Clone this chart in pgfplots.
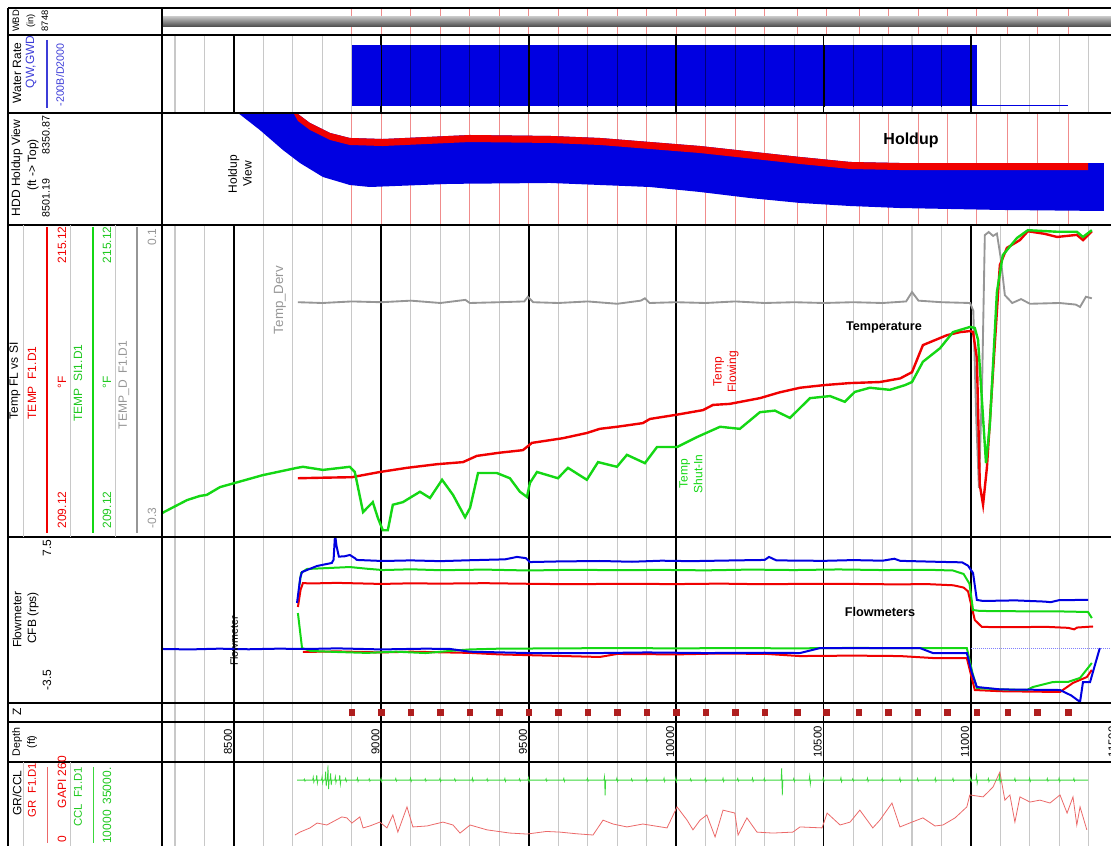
\documentclass[border=0pt]{standalone}
\usepackage{fontspec}
\setmainfont{Liberation Sans}
\usepackage{pgfplots}
\pgfplotsset{compat=1.18}

\definecolor{tgreen}{RGB}{20,215,20}
\definecolor{tred}{RGB}{240,0,0}
\definecolor{tblue}{RGB}{0,0,225}
\definecolor{navy}{RGB}{0,0,120}
\definecolor{dgray}{RGB}{150,150,150}
\definecolor{gridgray}{RGB}{200,200,200}
\definecolor{zred}{RGB}{175,30,30}
\definecolor{grred}{RGB}{235,105,105}
\definecolor{cclgreen}{RGB}{60,215,60}
\definecolor{hdrblue}{RGB}{60,60,215}
\definecolor{hdrgreen}{RGB}{30,200,30}
\definecolor{statred}{RGB}{240,140,140}

\pgfplotsset{
  trk/.style={scale only axis, width=711.75pt, xmin=8256, xmax=11475,
    anchor=south west, axis line style={draw=none}, ytick=\empty,
    scaled x ticks=false, scaled y ticks=false,
    xticklabels={}, major tick length=0pt, minor tick length=0pt},
  grd/.style={xtick={8500,9000,...,11000}, minor xtick={8300,8400,...,11400},
    xmajorgrids, xminorgrids,
    major grid style={black, line width=1.4pt},
    minor grid style={gridgray, line width=0.8pt}},
  bare/.style={xtick=\empty},
  stn/.style={extra x ticks={8900,9000,9100,9200,9300,9400,9500,9600,9700,9800,9900,10000,10100,10200,10300,10410,10510,10620,10720,10820,10920,11020,11125,11225,11330},
    extra x tick labels={},
    extra x tick style={grid=major, major grid style={statred, line width=0.6pt}}},
}

\begin{document}
\begin{tikzpicture}
\useasboundingbox (0,0) rectangle (833.25pt,634.5pt);

% ---------------- WBD track ----------------
\begin{axis}[trk, stn, at={(121.5pt,608.25pt)}, height=20.25pt, xtick=\empty,
  ymin=-11.37, ymax=12.25]
\addplot[draw=none, top color=black!25, middle color=black!50, bottom color=black!72]
  coordinates {(8256,-4.374) (11475,-4.374) (11475,4.374) (8256,4.374)} -- cycle;
\end{axis}

% ---------------- Water rate ----------------
\begin{axis}[trk, grd, at={(121.5pt,549.75pt)}, height=58.5pt, ymin=-200, ymax=2000]
\addplot[draw=none, fill=tblue]
  coordinates {(8900,0) (8900,1720) (11020,1720) (11020,0)} -- cycle;
\addplot[tblue, line width=0.6pt] coordinates {(11020,0) (11330,0)};
\end{axis}
% depth grid seen through the rate fill
\begin{axis}[scale only axis, anchor=south west, at={(264pt,554.25pt)},
  width=468.75pt, height=46.5pt, xmin=8900, xmax=11020, ymin=0, ymax=1,
  axis line style={draw=none}, ytick=\empty, scaled x ticks=false,
  xticklabels={}, major tick length=0pt, minor tick length=0pt,
  xtick={9000,9500,...,11000}, minor xtick={9100,9200,...,10900},
  xmajorgrids, xminorgrids,
  major grid style={black, line width=1.4pt},
  minor grid style={navy, line width=0.8pt}]
\end{axis}

% ---------------- Holdup view ----------------
\begin{axis}[trk, stn, at={(121.5pt,465.75pt)}, height=84pt,
  ymin=8350.87, ymax=8501.19, y dir=reverse,
  xtick={8600,8700,8800}, xmajorgrids, major grid style={gridgray, line width=0.8pt}]
\addplot[draw=none, fill=tblue] coordinates {
  (8505,8340) (8717,8340) (8717,8352.2) (8758,8364.3) (8826,8377.7) (8893,8384.4)
  (9005,8385.8) (9301,8380.4) (9572,8381.7) (9741,8384.4) (10081,8395.2)
  (10420,8409.9) (10590,8416.6) (10759,8418) (11451,8418)
  (11451,8482.4) (11098,8481) (10759,8478.4) (10590,8475.7) (10420,8471.6)
  (10250,8465) (10081,8456.9) (9911,8450.2) (9572,8444.8) (9233,8446)
  (8961,8450.2) (8893,8447.5) (8802,8436.8) (8724,8418) (8666,8400.5)
  (8588,8373.7) (8514,8350.87) (8505,8340)} -- cycle;
\addplot[draw=none, fill=tred] coordinates {
  (8700,8340) (8717,8352.2) (8758,8364.3) (8826,8377.7) (8893,8384.4)
  (9005,8385.8) (9301,8380.4) (9572,8381.7) (9741,8384.4) (10081,8395.2)
  (10420,8409.9) (10590,8416.6) (10759,8418) (11397,8418)
  (11397,8427.4) (10759,8427.4) (10590,8426) (10420,8419.3) (10081,8404.6)
  (9741,8393.8) (9572,8391.1) (9301,8389.8) (9005,8395.2) (8893,8393.8)
  (8826,8387.1) (8758,8373.7) (8717,8361.6) (8700,8349.4)} -- cycle;
\end{axis}

% ---------------- Temperature (derivative, with grid) ----------------
\begin{axis}[trk, grd, at={(121.5pt,231.75pt)}, height=234pt, ymin=-0.3, ymax=0.1]
\addplot[dgray, line width=1.4pt] coordinates {
  (8717,0.001) (8800,0.000) (8900,0.002) (9000,0.001) (9100,0.003) (9200,0.000)
  (9285,0.004) (9300,0.000) (9400,0.001) (9485,0.002) (9497,0.008) (9515,0.001)
  (9600,0.000) (9700,0.002) (9800,-0.001) (9880,0.003) (9894,0.006) (9910,0.000)
  (10000,0.001) (10100,0.000) (10200,0.002) (10300,0.000) (10400,0.001)
  (10500,0.000) (10600,0.001) (10700,0.000) (10780,0.002) (10800,0.014)
  (10822,0.003) (10900,0.001) (10997,0.000) (11008,-0.010) (11018,-0.150)
  (11027,-0.237) (11038,-0.100) (11047,0.087) (11060,0.091) (11075,0.086)
  (11088,0.089) (11100,0.060) (11115,0.010) (11140,0.000) (11170,0.005)
  (11200,-0.001) (11300,0.000) (11355,-0.002) (11370,-0.005) (11390,0.008)
  (11410,0.006)};
\end{axis}

% ---------------- Temperature (flowing / shut-in) ----------------
\begin{axis}[trk, bare, at={(121.5pt,231.75pt)}, height=234pt, ymin=209.12, ymax=215.12]
\addplot[tred, line width=1.8pt] coordinates {
  (8717,210.25) (8800,210.26) (8900,210.27) (8995,210.37) (9087,210.45)
  (9189,210.52) (9277,210.56) (9324,210.68) (9400,210.74) (9480,210.79)
  (9511,210.93) (9616,211.02) (9697,211.12) (9741,211.20) (9800,211.24)
  (9887,211.31) (9911,211.39) (10000,211.47) (10091,211.56) (10125,211.66)
  (10182,211.68) (10284,211.79) (10350,211.90) (10420,211.99) (10500,212.04)
  (10589,212.08) (10691,212.10) (10760,212.17) (10800,212.29) (10837,212.81)
  (10918,213.00) (10963,213.06) (10997,213.08) (11007,213.06) (11020,212.56)
  (11030,210.12) (11041,209.74) (11054,210.45) (11098,214.35) (11122,214.68)
  (11166,214.83) (11193,215.00) (11250,214.95) (11292,214.89) (11359,214.93)
  (11380,214.83) (11410,215.00)};
\addplot[tgreen, line width=1.8pt] coordinates {
  (8256,209.58) (8341,209.83) (8385,209.91) (8408,209.93) (8453,210.08)
  (8510,210.17) (8598,210.31) (8714,210.45) (8734,210.47) (8802,210.41)
  (8893,210.47) (8910,210.37) (8938,209.60) (8971,209.79) (8988,209.49)
  (9005,209.25) (9022,209.25) (9039,209.74) (9073,209.79) (9131,209.99)
  (9165,209.87) (9206,210.22) (9243,209.93) (9284,209.50) (9301,209.68)
  (9328,210.35) (9392,210.35) (9436,210.25) (9470,209.99) (9494,209.89)
  (9504,210.16) (9528,210.37) (9599,210.25) (9633,210.45) (9697,210.22)
  (9735,210.56) (9799,210.47) (9833,210.70) (9894,210.54) (9935,210.85)
  (10003,210.85) (10070,211.04) (10149,211.24) (10182,211.22) (10216,211.20)
  (10284,211.52) (10335,211.55) (10386,211.41) (10454,211.79) (10522,211.83)
  (10572,211.72) (10606,211.91) (10657,211.99) (10725,211.95) (10776,212.04)
  (10800,212.10) (10837,212.49) (10895,212.75) (10939,213.06) (10997,213.16)
  (11013,213.14) (11024,212.91) (11051,210.54) (11064,211.27) (11088,213.83)
  (11108,214.54) (11156,214.87) (11193,215.02) (11292,214.99) (11359,214.99)
  (11380,214.89) (11410,215.02)};
\end{axis}

% ---------------- Flowmeters ----------------
\begin{axis}[trk, grd, at={(121.5pt,107.25pt)}, height=124.5pt, ymin=-3.5, ymax=7.5]
\addplot[blue!50, densely dotted, line width=0.5pt] coordinates {(11000,0.1) (11475,0.1)};
\addplot[tred, line width=1.5pt] coordinates {
  (8717,2.86) (8726,4.00) (8734,4.45) (8758,4.42) (8850,4.46) (9000,4.39)
  (9100,4.43) (9200,4.41) (9350,4.44) (9500,4.40) (9650,4.37) (9800,4.40)
  (10000,4.38) (10150,4.41) (10300,4.37) (10450,4.40) (10600,4.39)
  (10750,4.36) (10850,4.38) (10940,4.30) (10975,4.15) (10990,3.90)
  (11013,2.00) (11037,1.54) (11150,1.52) (11250,1.55) (11330,1.48)
  (11350,1.38) (11360,1.50) (11414,1.57)};
\addplot[tgreen, line width=1.5pt] coordinates {
  (8722,4.30) (8728,5.12) (8748,5.38) (8893,5.51) (8950,5.40) (9005,5.31)
  (9100,5.36) (9200,5.30) (9350,5.34) (9500,5.28) (9650,5.33) (9800,5.30)
  (9950,5.32) (10100,5.29) (10250,5.34) (10400,5.31) (10550,5.35)
  (10700,5.31) (10850,5.33) (10939,5.28) (10975,5.05) (10995,4.40)
  (11007,2.66) (11030,2.60) (11150,2.58) (11300,2.57) (11397,2.53) (11410,2.13)};
\addplot[tblue, line width=1.5pt] coordinates {
  (8714,3.13) (8725,4.80) (8731,5.18) (8782,5.58) (8832,5.78) (8838,6.00)
  (8843,7.70) (8848,6.90) (8856,6.20) (8875,6.22) (8893,6.31) (8910,6.10)
  (8917,5.98) (9005,5.91) (9100,5.95) (9200,5.90) (9300,5.96) (9420,6.02)
  (9460,6.18) (9490,6.10) (9504,5.84) (9600,5.88) (9741,5.91) (9850,5.86)
  (9950,5.93) (10050,5.90) (10200,5.95) (10300,5.98) (10315,6.18)
  (10340,5.95) (10500,5.92) (10600,5.97) (10700,5.93) (10740,6.06)
  (10760,5.92) (10900,5.85) (10970,5.82) (10990,5.60) (11007,5.11)
  (11020,3.33) (11041,3.26) (11150,3.30) (11250,3.22) (11270,3.18)
  (11300,3.32) (11397,3.33)};
\addplot[tred, line width=1.5pt] coordinates {
  (8734,-0.12) (8850,-0.08) (9000,-0.15) (9100,-0.10) (9200,-0.14)
  (9300,-0.18) (9400,-0.28) (9480,-0.32) (9600,-0.38) (9741,-0.45)
  (9800,-0.25) (10000,-0.28) (10150,-0.22) (10308,-0.25) (10420,-0.39)
  (10600,-0.36) (10759,-0.39) (10871,-0.52) (10986,-0.52) (11013,-2.64)
  (11100,-2.72) (11302,-2.77) (11346,-2.17) (11393,-1.78) (11410,-1.31)};
\addplot[tgreen, line width=1.5pt] coordinates {
  (8717,2.46) (8731,0.14) (8760,-0.05) (8850,-0.12) (8950,-0.18) (9050,-0.10)
  (9150,-0.19) (9233,-0.05) (9300,0.05) (9400,0.10) (9600,0.12) (9800,0.14)
  (10000,0.12) (10200,0.14) (10400,0.12) (10600,0.15) (10800,0.13)
  (10986,0.14) (11005,-1.50) (11020,-2.51) (11100,-2.60) (11190,-2.64)
  (11210,-2.44) (11278,-2.11) (11330,-2.10) (11370,-1.84) (11410,-0.85)};
\addplot[tblue, line width=1.5pt] coordinates {
  (8256,0.08) (8350,0.05) (8450,0.10) (8550,0.06) (8650,0.10) (8750,0.08)
  (8850,0.12) (9000,0.05) (9150,0.10) (9233,0.08) (9300,-0.10) (9500,-0.19)
  (9741,-0.19) (9900,-0.15) (10100,-0.19) (10300,-0.17) (10420,-0.19)
  (10488,0.14) (10827,0.14) (10871,-0.19) (10986,-0.19) (11003,-1.50)
  (11020,-2.44) (11100,-2.60) (11302,-2.64) (11340,-3.00) (11370,-3.43)
  (11380,-2.11) (11404,-2.11) (11437,0.14)};
\end{axis}

% ---------------- Station markers ----------------
\begin{axis}[trk, grd, at={(121.5pt,93pt)}, height=14.25pt, ymin=0, ymax=1]
\addplot[only marks, mark=square*, mark size=2.1pt, color=zred] coordinates {
  (8900,0.5) (9000,0.5) (9100,0.5) (9200,0.5) (9300,0.5) (9400,0.5) (9500,0.5)
  (9600,0.5) (9700,0.5) (9800,0.5) (9900,0.5) (10000,0.5) (10100,0.5)
  (10200,0.5) (10300,0.5) (10410,0.5) (10510,0.5) (10620,0.5) (10720,0.5)
  (10820,0.5) (10920,0.5) (11020,0.5) (11125,0.5) (11225,0.5) (11330,0.5)};
\end{axis}

% ---------------- Depth scale ----------------
\begin{axis}[trk, grd, at={(121.5pt,63pt)}, height=30pt, ymin=0, ymax=1, clip=false]
\foreach \d in {8500,9000,9500,10000,10500,11000,11500}{
  \edef\temp{\noexpand\node[rotate=90, anchor=south, inner sep=1.2pt,
    font=\noexpand\fontsize{8.5}{9}\noexpand\selectfont] at (axis cs:\d,0.5) {\d};}
  \temp
}
\end{axis}

% ---------------- GR / CCL ----------------
\begin{axis}[trk, grd, at={(121.5pt,0pt)}, height=63pt, ymin=0, ymax=260]
\addplot[grred, line width=0.6pt] coordinates {
  (8707,34) (8724,43) (8758,56) (8782,71) (8815,65) (8866,90) (8883,87)
  (8900,71) (8927,90) (8938,56) (8961,62) (8995,74) (9019,56) (9039,96)
  (9056,43) (9087,121) (9107,59) (9155,62) (9209,74) (9243,65) (9267,40)
  (9301,65) (9358,50) (9436,40) (9494,37) (9560,45) (9606,43) (9660,38)
  (9718,34) (9752,80) (9786,68) (9833,59) (9887,68) (9928,62) (9969,56)
  (10003,121) (10037,80) (10057,50) (10081,80) (10104,96) (10132,28)
  (10159,111) (10199,102) (10210,34) (10240,87) (10274,43) (10328,40)
  (10396,43) (10420,59) (10495,56) (10512,102) (10556,65) (10590,74)
  (10623,111) (10667,56) (10691,80) (10732,133) (10759,59) (10800,74)
  (10837,87) (10878,62) (10905,65) (10946,87) (10986,121) (10996,158)
  (11041,152) (11058,167) (11075,183) (11098,229) (11115,142) (11132,158)
  (11149,74) (11166,152) (11200,136) (11234,142) (11268,133) (11302,158)
  (11326,102) (11346,152) (11359,65) (11370,121) (11393,50)};
\end{axis}
\begin{axis}[trk, bare, at={(121.5pt,0pt)}, height=63pt, ymin=10000, ymax=35000]
\addplot[cclgreen, line width=0.6pt] coordinates {
  (8714,29600)
  (8737,29600)(8739,29900)(8741,29300)(8743,29600)
  (8767,29600)(8769,30500)(8771,29000)(8773,29600)
  (8779,29600)(8781,31100)(8783,28700)(8785,29600)
  (8797,29600)(8799,30600)(8801,28800)(8803,29600)
  (8809,29600)(8811,32100)(8813,27800)(8815,29600)
  (8817,29600)(8819,34000)(8821,26900)(8823,29600)
  (8826,29600)(8828,31600)(8830,28100)(8832,29600)
  (8842,29600)(8844,30600)(8846,28900)(8848,29600)
  (8857,29600)(8859,31100)(8861,28400)(8863,29600)
  (8877,29600)(8879,30100)(8881,29200)(8883,29600)
  (8917,29600)(8919,30200)(8921,29200)(8923,29600)
  (8957,29600)(8959,30000)(8961,29300)(8963,29600)
  (8997,29600)(8999,30100)(9001,29200)(9003,29600)
  (9047,29600)(9049,30100)(9051,29300)(9053,29600)
  (9097,29600)(9099,30200)(9101,29200)(9103,29600)
  (9147,29600)(9149,30000)(9151,29300)(9153,29600)
  (9197,29600)(9199,30100)(9201,29200)(9203,29600)
  (9247,29600)(9249,30000)(9251,29300)(9253,29600)
  (9307,29600)(9309,30200)(9311,29200)(9313,29600)
  (9357,29600)(9359,30000)(9361,29300)(9363,29600)
  (9417,29600)(9419,30100)(9421,29200)(9423,29600)
  (9467,29600)(9469,30000)(9471,29300)(9473,29600)
  (9497,29600)(9499,30300)(9501,29100)(9503,29600)
  (9557,29600)(9559,30000)(9561,29300)(9563,29600)
  (9617,29600)(9619,30100)(9621,29200)(9623,29600)
  (9697,29600)(9699,30100)(9701,29300)(9703,29600)
  (9755,29600)(9757,30600)(9759,25100)(9761,29600)
  (9797,29600)(9799,30200)(9801,29200)(9803,29600)
  (9847,29600)(9849,30000)(9851,29300)(9853,29600)
  (9897,29600)(9899,30100)(9901,29200)(9903,29600)
  (9957,29600)(9959,30200)(9961,29200)(9963,29600)
  (9997,29600)(9999,30300)(10001,29100)(10003,29600)
  (10047,29600)(10049,30000)(10051,29300)(10053,29600)
  (10097,29600)(10099,30100)(10101,29200)(10103,29600)
  (10157,29600)(10159,30200)(10161,29200)(10163,29600)
  (10207,29600)(10209,30100)(10211,29300)(10213,29600)
  (10257,29600)(10259,30200)(10261,29200)(10263,29600)
  (10297,29600)(10299,30100)(10301,29300)(10303,29600)
  (10356,29600)(10358,33200)(10360,25100)(10362,29600)
  (10397,29600)(10399,30100)(10401,29200)(10403,29600)
  (10451,29600)(10453,30800)(10455,28400)(10457,29600)
  (10497,29600)(10499,30200)(10501,29200)(10503,29600)
  (10557,29600)(10559,30300)(10561,29100)(10563,29600)
  (10597,29600)(10599,30000)(10601,29300)(10603,29600)
  (10647,29600)(10649,30200)(10651,29200)(10653,29600)
  (10697,29600)(10699,30100)(10701,29300)(10703,29600)
  (10757,29600)(10759,30200)(10761,29200)(10763,29600)
  (10817,29600)(10819,30100)(10821,29300)(10823,29600)
  (10877,29600)(10879,30200)(10881,29200)(10883,29600)
  (10937,29600)(10939,30100)(10941,29300)(10943,29600)
  (10997,29600)(10999,30200)(11001,29200)(11003,29600)
  (11017,29600)(11019,30800)(11021,28700)(11023,29600)
  (11057,29600)(11059,30100)(11061,29200)(11063,29600)
  (11095,29600)(11097,31400)(11099,29000)(11101,29600)
  (11147,29600)(11149,30100)(11151,29300)(11153,29600)
  (11197,29600)(11199,30200)(11201,29200)(11203,29600)
  (11257,29600)(11259,30100)(11261,29300)(11263,29600)
  (11297,29600)(11299,30200)(11301,29200)(11303,29600)
  (11347,29600)(11349,30100)(11351,29300)(11353,29600)
  (11397,29600)};
\end{axis}

% ---------------- Frame, header column and annotations ----------------
\begin{scope}[x=0.75pt, y=0.75pt,
  every node/.style={inner sep=0pt, font=\fontsize{9}{10}\selectfont}]
  % track separators and borders
  \foreach \yy in {838,811,733,621,309,143,124,84}
    \draw[line width=0.9pt] (8,\yy) -- (1111,\yy);
  \draw[line width=0.9pt] (8,838) -- (8,0);
  \draw[line width=1.5pt] (162,838) -- (162,0);
  % header sub-columns
  \draw[gridgray, line width=0.7pt] (23,621) -- (23,309) (70,621) -- (70,309)
    (115,621) -- (115,309) (23,84) -- (23,0) (70,84) -- (70,0);
  % curve scale bars
  \draw[tred, line width=1.5pt] (47,619) -- (47,313);
  \draw[tgreen, line width=1.5pt] (93,619) -- (93,313);
  \draw[dgray, line width=1.2pt] (137,619) -- (137,313);
  \draw[hdrblue, line width=0.8pt] (47,806) -- (47,738);
  \draw[grred, line width=0.7pt] (47,79) -- (47,3);
  \draw[cclgreen, line width=0.7pt] (93,79) -- (93,3);

  % WBD
  \node[rotate=90, font=\fontsize{7}{8}\selectfont] at (16,825) {WBD};
  \node[rotate=90, font=\fontsize{7}{8}\selectfont] at (31,825) {(in)};
  \node[rotate=90, font=\fontsize{7}{8}\selectfont] at (45,825) {8748};
  % Water rate
  \node[rotate=90] at (17,773) {Water Rate};
  \node[rotate=90, text=hdrblue] at (31,784) {QW,GWD};
  \node[rotate=90, text=hdrblue, font=\fontsize{8}{9}\selectfont] at (60,771) {-200B/D2000};
  % Holdup
  \node[rotate=90] at (17,678) {HDD Holdup View};
  \node[rotate=90] at (33,681) {(ft -> Top)};
  \node[rotate=90, font=\fontsize{8}{9}\selectfont] at (46,648) {8501.19};
  \node[rotate=90, font=\fontsize{8}{9}\selectfont] at (46,711) {8350.87};
  % Temperature
  \node[rotate=90] at (15,465) {Temp FL vs SI};
  \node[rotate=90, text=tred] at (32,463) {TEMP\ \ F1.D1};
  \node[rotate=90, text=tred] at (62,336) {209.12};
  \node[rotate=90, text=tred] at (62,464) {°F};
  \node[rotate=90, text=tred] at (62,601) {215.12};
  \node[rotate=90, text=hdrgreen] at (78,463) {TEMP\ \ SI1.D1};
  \node[rotate=90, text=hdrgreen] at (107,336) {209.12};
  \node[rotate=90, text=hdrgreen] at (107,464) {°F};
  \node[rotate=90, text=hdrgreen] at (107,601) {215.12};
  \node[rotate=90, text=dgray] at (124,461) {TEMP\_D\ \ F1.D1};
  \node[rotate=90, text=dgray] at (152,328) {-0.3};
  \node[rotate=90, text=dgray] at (152,609) {0.1};
  % Flowmeter
  \node[rotate=90] at (17,226) {Flowmeter};
  \node[rotate=90] at (33,228) {CFB (rps)};
  \node[rotate=90] at (47,298) {7.5};
  \node[rotate=90] at (47,166) {-3.5};
  % Z and depth
  \node[rotate=90] at (17,134) {Z};
  \node[rotate=90, font=\fontsize{8}{9}\selectfont] at (17,104) {Depth};
  \node[rotate=90, font=\fontsize{8}{9}\selectfont] at (32,104) {(ft)};
  % GR / CCL
  \node[rotate=90] at (17,53) {GR/CCL};
  \node[rotate=90, text=tred, font=\fontsize{8.5}{9}\selectfont] at (32,56) {GR\ \ F1.D1};
  \node[rotate=90, text=tred] at (62,7) {0};
  \node[rotate=90, text=tred] at (62,64) {GAPI 260};
  \node[rotate=90, text=hdrgreen, font=\fontsize{8.5}{9}\selectfont] at (78,49) {CCL\ \ F1.D1};
  \node[rotate=90, text=hdrgreen] at (107,19) {10000};
  \node[rotate=90, text=hdrgreen] at (107,60) {35000.};

  % annotations in the tracks
  \node[font=\bfseries\fontsize{12}{13}\selectfont] at (911,706) {Holdup};
  \node[rotate=90, align=center, font=\fontsize{9}{11}\selectfont] at (240,672) {Holdup\\View};
  \node[rotate=90, text=dgray, font=\fontsize{10}{11}\selectfont] at (280,546) {Temp\_Derv};
  \node[font=\bfseries\fontsize{9.5}{10}\selectfont] at (884,519) {Temperature};
  \node[rotate=90, align=center, text=tred, font=\fontsize{9}{11}\selectfont] at (726,474) {Temp\\Flowing};
  \node[rotate=90, align=center, text=tgreen, font=\fontsize{9}{11}\selectfont] at (691,372) {Temp\\Shut-In};
  \node[font=\bfseries\fontsize{9.5}{10}\selectfont] at (880,234) {Flowmeters};
  \node[rotate=90, font=\fontsize{8}{9}\selectfont] at (234,205) {Flowmeter};
\end{scope}
\end{tikzpicture}
\end{document}
